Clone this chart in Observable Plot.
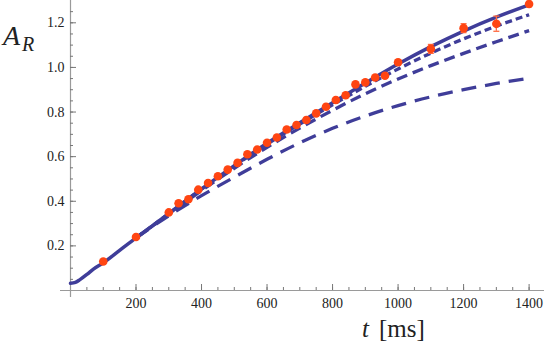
<!DOCTYPE html>
<html><head><meta charset="utf-8">
<script src="https://cdn.jsdelivr.net/npm/d3@7"></script>
<script src="https://cdn.jsdelivr.net/npm/@observablehq/plot@0.6"></script>
<style>
html,body{margin:0;padding:0;background:#fff}
#chart svg text, #chart svg tspan { font-family: Liberation Serif, DejaVu Serif, serif !important; }
</style>
</head><body><div id="chart"></div>
<script>
// measured points
const pointT = [100,200,300,330,360,390,420,450,480,510,540,570,600,630,660,690,720,750,780,810,840,870,900,930,960,1000,1100,1200,1300,1400];
const pointA = [0.130,0.240,0.350,0.391,0.409,0.452,0.482,0.512,0.542,0.572,0.611,0.632,0.662,0.686,0.722,0.742,0.764,0.794,0.824,0.854,0.875,0.924,0.933,0.955,0.963,1.023,1.083,1.176,1.196,1.284];
const pointErr = [0.008,0.008,0.008,0.008,0.008,0.008,0.008,0.008,0.008,0.008,0.008,0.008,0.008,0.008,0.008,0.008,0.008,0.008,0.008,0.008,0.008,0.008,0.008,0.008,0.008,0.012,0.02,0.02,0.034,0.012];
// solid model curve
const solidT = [0,15,30,50,70,100,150,200,250,300,400,500,600,700,800,900,1000,1100,1200,1300,1400];
const solidA = [0.032,0.036,0.05,0.072,0.096,0.124,0.18,0.236,0.29,0.345,0.455,0.56,0.66,0.752,0.842,0.93,1.015,1.093,1.163,1.225,1.28];
// dashed model curves
const dashT = [200,300,400,500,600,700,800,900,1000,1100,1200,1300,1400];
const shortA = [0.236,0.345,0.455,0.558,0.656,0.746,0.832,0.915,0.993,1.064,1.128,1.185,1.236];
const mediumA = [0.236,0.343,0.448,0.548,0.642,0.728,0.808,0.882,0.948,1.008,1.063,1.115,1.165];
const longA = [0.236,0.335,0.425,0.508,0.588,0.662,0.727,0.782,0.829,0.868,0.9,0.928,0.952];
// ticks
const xTicks = [200,400,600,800,1000,1200,1400];
const xTickLabels = ["200","400","600","800","1000","1200","1400"];
const yTicks = [0.2,0.4,0.6,0.8,1.0,1.2];
const yTickLabels = ["0.2","0.4","0.6","0.8","1.0","1.2"];
const xMinor = d3.range(50, 1450, 50);
const yMinor = d3.range(1, 26).map(i => i * 0.05);

const W = 544, H = 348, mL = 70, mB = 58, mT = 0, mR = 0;
const frameW = W - mL - mR, frameH = H - mT - mB;
const lineColor = "#3f3d99", dotColor = "#ff4512", axisGray = "#9a9a9a";
const serif = "Liberation Serif";

const points = pointT.map((t, i) => ({t, a: pointA[i], e: pointErr[i]}));
const solid = solidT.map((t, i) => ({t, a: solidA[i]}));
const mk = arr => dashT.map((t, i) => ({t, a: arr[i]}));
const capSymbol = {draw(ctx, size) { const w = Math.sqrt(size / Math.PI); ctx.moveTo(-w, 0); ctx.lineTo(w, 0); }};

const plot = Plot.plot({
  width: W, height: H,
  marginLeft: mL, marginRight: mR, marginTop: mT, marginBottom: mB,
  x: {domain: [0, 1447], axis: null},
  y: {domain: [0, 1.3], axis: null},
  style: {background: "white", color: "#222", fontFamily: serif},
  marks: [
    Plot.ruleY([0], {stroke: axisGray, strokeWidth: 1.2, insetLeft: -10}),
    Plot.ruleX([0], {stroke: axisGray, strokeWidth: 1.2, insetBottom: -7}),
    Plot.tickX(xMinor, {x: d => d, insetTop: frameH - 3, stroke: "#777"}),
    Plot.tickX(xTicks, {x: d => d, insetTop: frameH - 6, stroke: "#777"}),
    Plot.tickY(yMinor, {y: d => d, insetRight: frameW - 3, stroke: "#777"}),
    Plot.tickY(yTicks, {y: d => d, insetRight: frameW - 6, stroke: "#777"}),
    Plot.axisX({ticks: xTicks, tickSize: 0, tickPadding: 8, fontSize: 14, label: null, tickFormat: d => xTickLabels[xTicks.indexOf(d)]}),
    Plot.axisY({ticks: yTicks, tickSize: 0, tickPadding: 6, fontSize: 14, label: null, tickFormat: d => yTickLabels[yTicks.indexOf(d)]}),
    Plot.line(mk(longA), {x: "t", y: "a", stroke: lineColor, strokeWidth: 3.3, strokeDasharray: "15,9", curve: "monotone-x", strokeLinecap: "butt"}),
    Plot.line(mk(mediumA), {x: "t", y: "a", stroke: lineColor, strokeWidth: 3.3, strokeDasharray: "11,6", curve: "monotone-x", strokeLinecap: "butt"}),
    Plot.line(mk(shortA), {x: "t", y: "a", stroke: lineColor, strokeWidth: 3.3, strokeDasharray: "7,4", curve: "monotone-x", strokeLinecap: "butt"}),
    Plot.line(solid, {x: "t", y: "a", stroke: lineColor, strokeWidth: 3.5, curve: "monotone-x"}),
    Plot.ruleX(points, {x: "t", y1: d => d.a - d.e, y2: d => d.a + d.e, stroke: "#ff6a40", strokeWidth: 1.3}),
    Plot.dot(points, {x: "t", y: d => d.a + d.e, symbol: capSymbol, r: 3, stroke: "#ff6a40", strokeWidth: 1.3, fill: "none"}),
    Plot.dot(points, {x: "t", y: d => d.a - d.e, symbol: capSymbol, r: 3, stroke: "#ff6a40", strokeWidth: 1.3, fill: "none"}),
    Plot.dot(points, {x: "t", y: "a", r: 4.3, fill: dotColor, stroke: "none"})
  ]
});
document.getElementById("chart").appendChild(plot);

const svg = d3.select(plot);
svg.attr("font-family", serif);
svg.selectAll("g").attr("font-family", serif);
const yl = svg.append("text").attr("text-anchor", "start").attr("fill", "#222").attr("font-family", serif);
yl.append("tspan").attr("x", 3).attr("y", 45).attr("font-size", 28).attr("font-style", "italic").text("A");
yl.append("tspan").attr("x", 22).attr("y", 51).attr("font-size", 20).attr("font-style", "italic").text("R");
const xl = svg.append("text").attr("text-anchor", "start").attr("fill", "#222").attr("font-size", 25).attr("font-family", serif);
xl.append("tspan").attr("x", 362).attr("y", 337).attr("font-style", "italic").text("t");
xl.append("tspan").attr("x", 379).attr("y", 337).text("[ms]");
svg.selectAll("text").attr("font-family", serif).style("font-family", serif);
</script>
</body></html>
